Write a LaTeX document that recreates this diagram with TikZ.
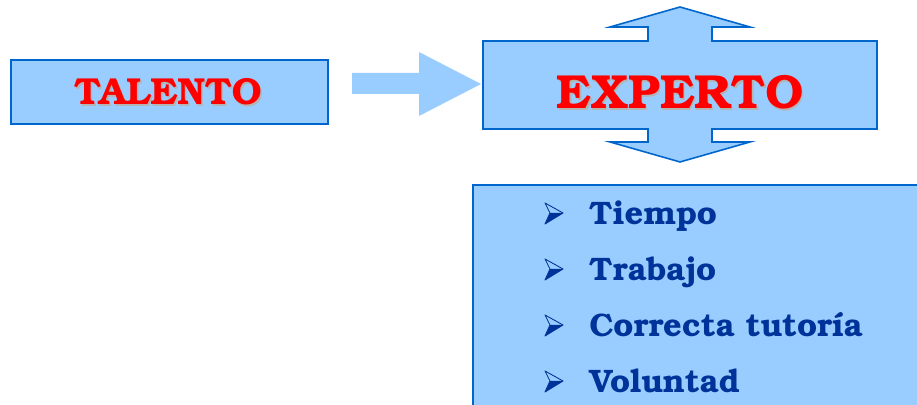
\documentclass[tikz,border=0pt]{standalone}
\usepackage[T1]{fontenc}
\usepackage{bookman}
\usetikzlibrary{positioning,calc}

\definecolor{celeste}{HTML}{99CCFF}
\definecolor{bordeazul}{HTML}{0066CC}
\definecolor{azultexto}{HTML}{003399}
\definecolor{rojo}{HTML}{FF0000}
\definecolor{sombra}{HTML}{B4B4B4}

\tikzset{
  caja/.style={draw=bordeazul, fill=celeste, line width=0.9pt, inner sep=0pt},
  titulo/.style={text=rojo, font=\bfseries, inner sep=0pt, anchor=base},
  sombratxt/.style={text=sombra, font=\bfseries, inner sep=0pt, anchor=base},
  item/.style={text=azultexto, font=\bfseries\fontsize{18.5}{22}\selectfont, inner sep=0pt, anchor=base west},
  vineta/.pic={
    \fill[azultexto] (10,0) -- (-8,11) -- (-3,0) -- cycle;
    \draw[azultexto, line width=0.5pt, line join=round] (10,0) -- (-8,-10) -- (-3,0) -- (-8,11) -- cycle;
  }
}

\begin{document}
\begin{tikzpicture}[x=0.02cm, y=-0.02cm]
  \clip (0,0) rectangle (917,405);
  \fill[white] (0,0) rectangle (917,405);

  % talento
  \node[caja, anchor=north west, minimum width=6.34cm, minimum height=1.28cm] (talento) at (10,59) {};
  \node[sombratxt, font=\bfseries\fontsize{21.4}{25}\selectfont] at (169.5,106.5) {TALENTO};
  \node[titulo, font=\bfseries\fontsize{21.4}{25}\selectfont] (talentotxt) at (168,105) {TALENTO};

  % flecha gruesa hacia experto
  \fill[celeste] (352,73) -- (419,73) -- (419,52) -- (481,84) -- (419,116) -- (419,94) -- (352,94) -- cycle;

  % experto con doble flecha vertical
  \filldraw[fill=celeste, draw=bordeazul, line width=0.9pt]
    (483,41) -- (648,41) -- (648,27) -- (610,27) -- (680,7) -- (750,27) -- (712,27) -- (712,41)
    -- (877,41) -- (877,129) -- (712,129) -- (712,142) -- (750,142) -- (680,162) -- (610,142)
    -- (648,142) -- (648,129) -- (483,129) -- cycle;
  \node[sombratxt, font=\bfseries\fontsize{27.2}{31}\selectfont] at (681.5,110.5) {EXPERTO};
  \node[titulo, font=\bfseries\fontsize{27.2}{31}\selectfont] (experto) at (680,109) {EXPERTO};

  % lista de requisitos
  \node[caja, anchor=north west, minimum width=9.3cm, minimum height=4.8cm] (lista) at (472,184) {};
  \foreach \txt [count=\i] in {Tiempo, Trabajo, Correcta tutor\'{\i}a, Voluntad} {
    \pic at (553,213+56*\i-56) {vineta};
    \node[item] (req\i) at (589,225+56*\i-56) {\txt};
  }
\end{tikzpicture}
\end{document}
